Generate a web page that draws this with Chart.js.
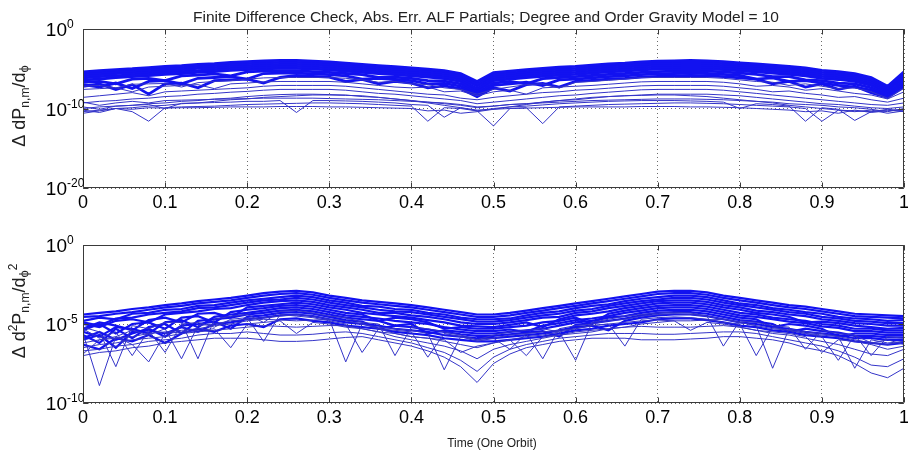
<!DOCTYPE html>
<html><head><meta charset="utf-8">
<script src="https://cdn.jsdelivr.net/npm/chart.js@4/dist/chart.umd.min.js"></script>
<style>
body{margin:0;background:#fff;width:908px;height:452px;overflow:hidden;position:relative}
canvas{position:absolute;left:0}
#c1{top:0}#c2{top:220px}
</style></head><body>
<canvas id="c1" width="908" height="220"></canvas>
<canvas id="c2" width="908" height="232"></canvas>
<script>
// time (fraction of one orbit)
const timeOrbit = [0,0.02,0.04,0.06,0.08,0.1,0.12,0.14,0.16,0.18,0.2,0.22,0.24,0.26,0.28,0.3,0.32,0.34,0.36,0.38,0.4,0.42,0.44,0.46,0.48,0.5,0.52,0.54,0.56,0.58,0.6,0.62,0.64,0.66,0.68,0.7,0.72,0.74,0.76,0.78,0.8,0.82,0.84,0.86,0.88,0.9,0.92,0.94,0.96,0.98,1];
const xTickValues = [0,0.1,0.2,0.3,0.4,0.5,0.6,0.7,0.8,0.9,1];
const yTicksTop = [1e-20,1e-10,1];
const yTicksBottom = [1e-10,1e-5,1];

// ---- top panel: log10 of |error| in dP/dphi ----
const dP_b0 = [-5.4,-5.25,-5.1,-5.0,-4.85,-4.7,-4.6,-4.45,-4.35,-4.2,
 -4.1,-4.0,-3.95,-3.95,-4.05,-4.15,-4.3,-4.45,-4.6,-4.75,
 -4.9,-5.05,-5.25,-5.6,-6.6,-5.5,-5.3,-5.1,-4.95,-4.8,
 -4.7,-4.55,-4.4,-4.3,-4.15,-4.05,-4.0,-3.95,-4.0,-4.1,
 -4.25,-4.4,-4.55,-4.7,-4.9,-5.2,-5.35,-5.6,-6.1,-7.2,-5.4];
const dP_b1 = [-5.65,-5.5,-5.35,-5.25,-5.1,-4.95,-4.85,-4.7,-4.6,-4.45,
 -4.35,-4.25,-4.2,-4.2,-4.3,-4.4,-4.55,-4.7,-4.85,-5.0,
 -5.15,-5.3,-5.5,-5.85,-6.9,-5.75,-5.55,-5.35,-5.2,-5.05,
 -4.95,-4.8,-4.65,-4.55,-4.4,-4.3,-4.25,-4.2,-4.25,-4.35,
 -4.5,-4.65,-4.8,-4.95,-5.15,-5.45,-5.6,-5.85,-6.35,-7.4,-5.65];
const dP_b2 = [-5.9,-5.75,-5.6,-5.5,-5.35,-5.2,-5.1,-4.95,-4.85,-4.7,
 -4.6,-4.5,-4.45,-4.45,-4.55,-4.65,-4.8,-4.95,-5.1,-5.25,
 -5.4,-5.55,-5.75,-6.1,-7.2,-6.0,-5.8,-5.6,-5.45,-5.3,
 -5.2,-5.05,-4.9,-4.8,-4.65,-4.55,-4.5,-4.45,-4.5,-4.6,
 -4.75,-4.9,-5.05,-5.2,-5.4,-5.7,-5.85,-6.1,-6.6,-7.6,-5.9];
const dP_b3 = [-6.15,-6.0,-5.9,-5.75,-5.6,-5.45,-5.35,-5.25,-5.1,-4.95,
 -4.85,-4.75,-4.7,-4.7,-4.8,-4.9,-5.05,-5.2,-5.35,-5.5,
 -5.65,-5.8,-6.0,-6.35,-7.5,-6.25,-6.05,-5.85,-5.7,-5.55,
 -5.45,-5.3,-5.15,-5.05,-4.9,-4.8,-4.75,-4.7,-4.75,-4.85,
 -5.0,-5.15,-5.3,-5.45,-5.65,-5.95,-6.1,-6.35,-6.85,-7.8,-6.15];
const dP_b4 = [-6.4,-6.3,-6.1,-6.0,-5.85,-5.7,-5.6,-5.45,-5.35,-5.2,
 -5.1,-5.0,-4.95,-4.95,-5.05,-5.15,-5.3,-5.45,-5.6,-5.75,
 -5.9,-6.05,-6.25,-6.6,-7.8,-6.5,-6.3,-6.1,-5.95,-5.8,
 -5.7,-5.55,-5.4,-5.3,-5.15,-5.05,-5.0,-4.95,-5.0,-5.1,
 -5.25,-5.4,-5.55,-5.7,-5.9,-6.2,-6.35,-6.6,-7.1,-8.0,-6.4];
const dP_b5 = [-6.7,-6.6,-6.9,-6.3,-6.2,-6.5,-5.9,-5.8,-5.65,-5.9,
 -5.4,-5.3,-5.25,-5.25,-5.35,-5.45,-5.6,-5.75,-6.1,-6.05,
 -6.2,-6.5,-6.55,-6.9,-8.1,-6.8,-6.6,-6.9,-6.25,-6.1,
 -6.0,-5.85,-5.7,-5.6,-5.45,-5.35,-5.3,-5.25,-5.3,-5.4,
 -5.55,-5.7,-6.0,-6.0,-6.4,-6.5,-6.8,-6.9,-7.4,-8.2,-6.7];
const dP_b6 = [-7.0,-7.3,-6.8,-7.5,-6.6,-6.5,-6.9,-6.2,-6.1,-6.0,
 -6.3,-5.6,-5.55,-5.55,-5.65,-5.75,-5.9,-6.3,-6.2,-6.35,
 -6.5,-6.9,-6.85,-7.2,-8.3,-7.1,-6.9,-6.7,-7.1,-6.4,
 -6.3,-6.15,-6.0,-5.9,-5.75,-5.65,-5.6,-5.55,-5.6,-5.7,
 -5.85,-6.3,-6.15,-6.6,-6.5,-6.8,-7.1,-7.3,-7.7,-8.4,-7.0];
const dP_b7 = [-7.2,-6.9,-7.6,-7.0,-8.2,-6.9,-6.8,-7.4,-6.5,-6.4,
 -6.3,-6.8,-6.1,-5.85,-5.95,-6.05,-6.6,-6.35,-6.9,-6.6,
 -6.8,-7.4,-7.15,-7.5,-8.5,-7.4,-7.8,-7.0,-6.85,-7.3,
 -6.6,-6.45,-6.3,-6.2,-6.05,-5.95,-5.9,-5.85,-5.9,-6.0,
 -6.15,-6.3,-6.9,-6.6,-7.3,-6.9,-7.6,-7.2,-8.0,-8.6,-7.3];
const dP_m0 = [-7.2,-7.1,-7.4,-6.95,-6.9,-6.85,-7.3,-6.75,-6.6,-6.5,
 -6.3,-6.15,-6.1,-6.1,-6.1,-6.1,-6.2,-6.4,-6.7,-6.6,
 -6.9,-7.0,-7.4,-7.6,-8.2,-7.6,-7.3,-7.0,-6.9,-7.4,
 -6.7,-6.6,-6.45,-6.3,-6.1,-6.1,-6.1,-6.1,-6.1,-6.2,
 -6.4,-6.6,-6.7,-7.1,-6.9,-7.2,-7.5,-7.4,-7.9,-8.7,-7.4];
const dP_m1 = [-7.6,-7.5,-7.4,-7.9,-7.3,-7.2,-7.1,-7.0,-7.5,-6.9,
 -6.8,-6.65,-6.6,-6.6,-6.6,-6.6,-6.7,-6.9,-7.1,-7.3,
 -7.4,-7.3,-7.9,-7.8,-8.4,-7.9,-7.7,-8.2,-7.4,-7.3,
 -7.2,-7.1,-6.95,-6.8,-6.65,-6.6,-6.6,-6.6,-6.6,-6.7,
 -6.9,-7.2,-7.1,-7.3,-7.7,-7.5,-7.8,-8.1,-8.3,-8.8,-7.9];
const dP_m2 = [-8.6,-8.4,-8.2,-8.0,-8.4,-7.9,-7.8,-7.7,-7.6,-7.5,
 -7.4,-7.2,-7.1,-7.1,-7.1,-7.1,-7.2,-7.4,-7.6,-7.8,
 -8.0,-8.2,-8.3,-8.7,-8.9,-8.6,-8.4,-8.2,-8.0,-7.9,
 -7.7,-7.6,-7.45,-7.3,-7.15,-7.1,-7.1,-7.1,-7.1,-7.2,
 -7.4,-7.6,-7.9,-7.8,-8.1,-8.3,-8.6,-8.5,-8.9,-9.2,-8.7];
const dP_m3 = [-9.3,-9.1,-9.0,-8.8,-8.7,-8.5,-8.4,-8.2,-8.1,-7.95,
 -7.85,-7.7,-7.6,-7.6,-7.6,-7.6,-7.7,-7.9,-8.1,-8.2,
 -8.4,-8.6,-8.8,-9.0,-9.4,-9.2,-9.0,-8.8,-8.6,-8.4,
 -8.3,-8.1,-7.95,-7.8,-7.65,-7.6,-7.6,-7.6,-7.6,-7.7,
 -7.9,-8.1,-8.3,-8.5,-8.7,-8.9,-9.1,-9.3,-9.5,-9.6,-9.3];
const dP_m4 = [-10.0,-9.8,-9.7,-9.6,-9.4,-9.3,-9.1,-9.0,-8.8,-8.7,
 -8.5,-8.35,-8.25,-8.2,-8.2,-8.25,-8.3,-8.5,-8.6,-8.8,
 -9.0,-9.2,-9.3,-9.5,-9.8,-9.7,-9.5,-9.4,-9.2,-9.0,
 -8.9,-8.7,-8.5,-8.4,-8.3,-8.2,-8.2,-8.2,-8.2,-8.3,
 -8.4,-8.6,-8.8,-9.0,-9.2,-9.4,-9.5,-9.7,-9.9,-10.0,-9.8];
const dP_l0 = [-10.4,-10.2,-10.0,-10.1,-9.9,-9.95,-9.9,-9.9,-9.85,-9.8,
 -9.8,-9.8,-9.75,-9.75,-9.75,-9.8,-9.8,-9.85,-9.9,-9.95,
 -10.0,-10.3,-10.2,-10.6,-10.4,-10.1,-10.0,-9.95,-9.9,-9.85,
 -9.8,-9.8,-9.8,-9.8,-9.75,-9.75,-9.75,-9.8,-9.8,-9.85,
 -9.9,-10.0,-10.1,-10.2,-10.4,-10.3,-10.6,-10.2,-10.5,-10.3,-10.1];
const dP_l1 = [-10.2,-10.5,-10.0,-10.4,-11.6,-9.9,-9.8,-9.75,-9.7,-9.6,
 -9.5,-9.45,-9.4,-9.35,-9.3,-9.3,-9.35,-9.4,-9.5,-9.6,
 -9.7,-11.6,-9.9,-10.0,-10.3,-12.2,-10.0,-9.9,-11.9,-9.8,
 -9.7,-9.6,-9.5,-9.45,-9.4,-9.35,-9.3,-9.3,-9.35,-9.4,
 -9.5,-9.6,-9.7,-9.8,-10.0,-11.6,-10.2,-10.4,-10.2,-10.6,-10.3];
const dP_l2 = [-10.6,-10.3,-10.0,-9.9,-9.7,-9.6,-9.4,-9.3,-9.1,-8.9,
 -8.8,-8.6,-8.5,-8.4,-8.3,-8.3,-8.35,-8.4,-8.6,-8.8,
 -9.0,-9.3,-9.6,-9.9,-10.2,-10.1,-9.8,-9.5,-9.2,-9.0,
 -8.8,-8.6,-8.5,-8.4,-8.35,-8.3,-8.3,-8.4,-8.5,-8.7,
 -8.9,-9.1,-9.3,-9.6,-9.8,-10.0,-10.2,-10.3,-10.4,-10.2,-10.4];
const dP_l3 = [-9.8,-10.1,-9.7,-9.6,-9.5,-10.0,-9.35,-9.3,-9.25,-9.2,
 -9.1,-9.1,-9.0,-10.5,-9.0,-9.0,-9.05,-9.1,-9.2,-9.3,
 -9.5,-9.6,-11.1,-9.9,-10.3,-10.0,-9.8,-9.7,-9.55,-9.4,
 -9.3,-9.2,-9.1,-9.05,-9.0,-9.0,-9.0,-9.05,-9.1,-9.2,
 -10.0,-9.4,-9.5,-9.7,-11.6,-9.9,-10.1,-11.5,-10.4,-10.1,-10.3];
const dP_l4 = [-9.2,-9.6,-9.3,-9.1,-9.3,-9.0,-8.95,-8.9,-8.85,-8.8,
 -8.75,-8.7,-8.7,-8.7,-8.7,-8.75,-8.8,-8.85,-8.9,-9.0,
 -9.1,-9.2,-9.4,-9.6,-9.9,-9.7,-9.5,-9.4,-9.3,-9.2,
 -9.1,-9.0,-8.95,-8.9,-8.85,-8.8,-8.8,-8.8,-8.85,-8.9,
 -9.0,-9.1,-9.2,-9.4,-9.5,-9.6,-9.8,-9.9,-10.1,-10.4,-10.0];

// ---- bottom panel: log10 of |error| in d2P/dphi2 ----
const d2P_d0 = [-4.4,-4.3,-4.2,-4.05,-3.95,-3.8,-3.7,-3.55,-3.45,-3.35,
 -3.2,-3.05,-2.95,-2.9,-3.0,-3.2,-3.35,-3.5,-3.6,-3.7,
 -3.8,-3.95,-4.1,-4.25,-4.4,-4.4,-4.3,-4.15,-4.0,-3.85,
 -3.7,-3.55,-3.4,-3.25,-3.1,-2.95,-2.9,-2.9,-3.0,-3.2,
 -3.35,-3.5,-3.65,-3.8,-3.9,-4.05,-4.2,-4.35,-4.4,-4.45,-4.5];
const d2P_d1 = [-4.8,-4.6,-4.7,-4.35,-4.3,-4.1,-4.05,-3.85,-3.8,-3.65,
 -3.5,-3.4,-3.3,-3.2,-3.3,-3.5,-3.65,-3.85,-3.9,-4.05,
 -4.1,-4.3,-4.4,-4.6,-4.7,-4.7,-4.65,-4.45,-4.3,-4.2,
 -4.0,-3.85,-3.75,-3.55,-3.4,-3.3,-3.2,-3.2,-3.3,-3.5,
 -3.7,-3.8,-4.0,-4.1,-4.25,-4.35,-4.55,-4.65,-4.7,-4.8,-4.75];
const d2P_d2 = [-5.0,-5.2,-4.8,-4.7,-4.9,-4.4,-4.3,-4.2,-4.05,-4.0,
 -3.8,-3.65,-3.55,-3.5,-3.6,-3.8,-3.95,-4.1,-4.3,-4.3,
 -4.45,-4.55,-4.7,-4.9,-5.0,-5.0,-4.9,-4.75,-4.6,-4.55,
 -4.3,-4.2,-4.0,-3.85,-3.7,-3.55,-3.5,-3.5,-3.6,-3.8,
 -3.95,-4.15,-4.25,-4.4,-4.5,-4.7,-4.8,-4.95,-5.0,-5.1,-5.1];
const d2P_d3 = [-5.4,-5.0,-5.6,-5.0,-4.9,-5.3,-4.6,-4.5,-4.9,-4.25,
 -4.1,-4.0,-3.85,-3.8,-3.9,-4.1,-4.3,-4.4,-4.8,-4.6,
 -4.7,-4.9,-5.3,-5.2,-5.3,-5.3,-5.2,-5.1,-4.9,-4.8,
 -4.6,-5.0,-4.35,-4.15,-4.0,-3.85,-3.8,-3.8,-3.9,-4.1,
 -4.3,-4.4,-4.6,-4.7,-4.8,-5.0,-5.1,-5.3,-5.3,-5.4,-5.4];
const d2P_d4 = [-5.7,-6.2,-5.3,-5.9,-5.2,-5.0,-5.6,-4.8,-4.7,-4.6,
 -4.4,-4.3,-4.15,-4.1,-4.2,-4.4,-4.6,-4.7,-4.8,-5.1,
 -5.0,-5.6,-5.4,-5.5,-5.6,-5.6,-5.5,-5.4,-5.3,-5.1,
 -4.9,-4.8,-4.6,-4.5,-4.3,-4.15,-4.1,-4.1,-4.2,-4.4,
 -4.6,-4.7,-5.2,-5.0,-5.1,-5.3,-5.8,-5.6,-5.6,-5.7,-5.7];
const d2P_d5 = [-6.0,-5.7,-6.5,-5.5,-5.4,-5.6,-5.2,-5.5,-5.0,-4.9,
 -4.7,-4.6,-4.45,-4.4,-4.5,-4.7,-4.9,-5.0,-5.1,-5.3,
 -5.4,-5.5,-5.7,-5.8,-5.9,-5.9,-5.8,-5.7,-5.6,-5.4,
 -5.2,-5.1,-5.4,-4.8,-4.6,-4.45,-4.4,-4.4,-4.5,-4.7,
 -4.9,-5.0,-5.2,-5.3,-5.5,-5.6,-5.7,-5.9,-5.9,-6.0,-6.0];
const d2P_d6 = [-4.55,-4.5,-4.35,-4.25,-4.1,-3.95,-3.85,-3.7,-3.6,-3.5,
 -3.35,-3.2,-3.1,-3.05,-3.15,-3.35,-3.5,-3.65,-3.75,-3.85,
 -3.95,-4.1,-4.25,-4.4,-4.55,-4.55,-4.45,-4.3,-4.15,-4.0,
 -3.85,-3.7,-3.55,-3.4,-3.25,-3.1,-3.05,-3.05,-3.15,-3.35,
 -3.5,-3.65,-3.8,-3.95,-4.05,-4.2,-4.35,-4.5,-4.55,-4.6,-4.65];
const d2P_d7 = [-4.9,-5.1,-4.65,-4.6,-4.4,-4.3,-4.2,-4.0,-3.95,-3.8,
 -3.65,-3.5,-3.45,-3.35,-3.45,-3.65,-3.8,-3.95,-4.1,-4.2,
 -4.25,-4.4,-4.55,-4.7,-4.85,-4.85,-4.75,-4.6,-4.45,-4.35,
 -4.15,-4.05,-3.85,-3.7,-3.55,-3.45,-3.35,-3.35,-3.45,-3.65,
 -3.8,-3.95,-4.1,-4.25,-4.35,-4.55,-4.65,-4.8,-4.85,-4.95,-4.95];
const d2P_d8 = [-5.3,-4.9,-5.1,-5.4,-4.75,-4.6,-4.9,-4.35,-4.3,-4.6,
 -3.95,-3.85,-3.75,-3.65,-3.75,-3.95,-4.1,-4.3,-4.4,-4.5,
 -4.6,-4.75,-4.9,-5.1,-5.15,-5.2,-5.05,-4.9,-5.2,-4.7,
 -4.45,-4.35,-4.2,-4.0,-3.85,-3.7,-3.65,-3.65,-3.75,-3.95,
 -4.1,-4.3,-4.4,-4.55,-4.9,-4.85,-4.95,-5.1,-5.2,-5.3,-5.25];
const d2P_d9 = [-5.5,-5.8,-5.2,-5.3,-5.6,-4.9,-4.75,-5.2,-4.55,-4.4,
 -4.3,-4.15,-4.0,-3.95,-4.05,-4.25,-4.45,-4.55,-4.65,-4.8,
 -4.9,-5.0,-5.2,-5.35,-5.45,-5.45,-5.35,-5.5,-5.1,-4.95,
 -4.75,-4.65,-4.5,-4.3,-4.15,-4.0,-3.95,-3.95,-4.05,-4.25,
 -4.45,-4.55,-4.7,-4.85,-4.95,-5.15,-5.25,-5.45,-5.45,-5.55,-5.55];
const d2P_d10 = [-5.9,-5.5,-6.0,-5.6,-5.3,-5.8,-5.1,-5.0,-4.85,-5.3,
 -4.55,-4.45,-4.3,-4.25,-4.35,-4.55,-4.75,-4.85,-5.3,-5.1,
 -5.2,-5.35,-5.5,-5.65,-5.75,-5.75,-5.65,-5.55,-5.45,-5.8,
 -5.05,-4.95,-4.8,-4.65,-4.45,-4.3,-4.25,-4.25,-4.35,-4.55,
 -4.75,-4.85,-5.0,-5.5,-5.3,-5.45,-5.55,-5.75,-5.75,-5.85,-5.85];
const d2P_d11 = [-6.3,-6.6,-5.9,-6.1,-5.7,-6.2,-5.6,-5.3,-5.5,-5.1,
 -5.0,-5.2,-4.7,-4.65,-4.8,-4.9,-5.1,-5.2,-5.3,-5.5,
 -5.6,-5.7,-5.9,-6.0,-6.1,-6.1,-6.0,-5.9,-5.8,-5.6,
 -5.4,-5.3,-5.1,-5.0,-4.9,-4.7,-4.65,-4.65,-4.75,-4.9,
 -5.1,-5.2,-5.4,-5.5,-5.7,-5.8,-5.9,-6.1,-6.2,-6.3,-6.2];
const d2P_j0 = [-5.6,-8.9,-5.8,-5.4,-5.7,-5.3,-7.2,-5.1,-5.0,-4.8,
 -4.7,-4.6,-4.5,-4.4,-4.5,-4.7,-7.4,-5.0,-5.2,-5.3,
 -5.4,-5.6,-7.9,-5.8,-6.0,-5.9,-5.7,-5.6,-7.2,-5.3,
 -5.1,-5.0,-4.8,-4.7,-4.5,-4.4,-4.35,-4.4,-4.5,-4.7,
 -4.9,-5.1,-7.8,-5.3,-5.5,-5.6,-5.8,-7.8,-6.0,-6.2,-6.1];
const d2P_j1 = [-5.2,-5.5,-7.7,-5.1,-5.3,-4.9,-4.9,-7.2,-4.7,-4.5,
 -4.4,-4.9,-4.2,-4.15,-4.3,-4.5,-4.6,-4.9,-5.0,-7.0,
 -5.2,-5.3,-5.5,-5.7,-6.0,-5.7,-5.5,-5.4,-5.3,-5.5,
 -7.3,-4.9,-4.7,-4.5,-4.4,-4.3,-4.25,-4.3,-4.5,-6.4,
 -4.8,-4.9,-5.1,-5.2,-6.6,-5.4,-5.6,-5.7,-7.0,-5.8,-5.9];
const d2P_j2 = [-5.3,-5.9,-5.5,-7.0,-5.4,-6.8,-5.0,-4.9,-5.2,-4.7,
 -4.6,-6.1,-4.4,-4.5,-4.6,-4.8,-5.0,-6.8,-5.3,-5.4,
 -5.5,-7.1,-5.6,-5.8,-6.1,-5.9,-6.6,-5.6,-5.5,-5.4,
 -5.3,-5.1,-5.0,-6.4,-4.7,-4.6,-4.55,-4.6,-4.7,-4.9,
 -5.0,-7.0,-5.2,-5.4,-5.6,-5.8,-7.3,-5.7,-6.2,-6.0,-6.3];
const d2P_j3 = [-6.9,-6.0,-5.8,-6.3,-7.4,-5.6,-5.5,-5.4,-5.3,-6.5,
 -5.0,-4.9,-4.8,-5.6,-4.9,-5.0,-5.2,-5.3,-5.5,-5.6,
 -5.8,-5.9,-6.0,-6.8,-6.4,-6.2,-6.0,-7.0,-5.8,-5.7,
 -5.6,-5.5,-5.3,-5.2,-5.0,-4.9,-4.8,-5.4,-4.9,-5.0,
 -5.2,-5.4,-5.5,-5.6,-5.8,-6.8,-6.0,-6.1,-6.3,-6.6,-6.4];
const d2P_a0 = [-6.2,-6.0,-5.9,-5.8,-5.6,-5.5,-5.4,-5.3,-5.1,-5.0,
 -4.8,-4.7,-4.75,-4.8,-4.75,-4.7,-4.8,-5.0,-5.3,-5.6,
 -5.8,-5.9,-6.1,-6.3,-6.5,-6.2,-6.0,-5.8,-5.7,-5.5,
 -5.3,-5.1,-5.0,-4.9,-4.8,-4.75,-4.8,-4.8,-4.75,-4.7,
 -4.9,-5.1,-5.3,-5.4,-5.6,-5.7,-5.8,-6.0,-6.2,-6.3,-6.1];
const d2P_a1 = [-6.5,-6.3,-6.2,-6.0,-5.9,-5.8,-5.6,-5.5,-5.4,-5.3,
 -5.2,-5.1,-5.15,-5.2,-5.15,-5.1,-5.1,-5.3,-5.5,-5.8,
 -6.0,-6.2,-6.4,-6.7,-7.2,-6.6,-6.3,-6.1,-5.9,-5.7,
 -5.5,-5.4,-5.3,-5.2,-5.15,-5.2,-5.2,-5.2,-5.15,-5.1,
 -5.2,-5.4,-5.6,-5.7,-5.9,-6.1,-6.3,-6.6,-6.9,-7.0,-6.6];
const d2P_a2 = [-6.7,-6.6,-6.4,-6.3,-6.1,-6.0,-5.9,-5.7,-5.6,-5.6,
 -5.5,-5.6,-5.7,-5.7,-5.65,-5.55,-5.5,-5.6,-5.8,-6.0,
 -6.2,-6.5,-6.8,-7.3,-8.0,-7.1,-6.6,-6.3,-6.1,-5.9,
 -5.8,-5.7,-5.6,-5.6,-5.6,-5.65,-5.65,-5.6,-5.55,-5.5,
 -5.5,-5.6,-5.8,-6.0,-6.2,-6.4,-6.7,-7.1,-7.6,-7.7,-7.2];
const d2P_a3 = [-7.0,-6.8,-6.7,-6.5,-6.4,-6.2,-6.1,-6.0,-5.9,-5.9,
 -5.9,-6.0,-6.1,-6.1,-6.05,-5.95,-5.85,-5.8,-6.0,-6.2,
 -6.4,-6.7,-7.1,-7.7,-8.7,-7.5,-6.9,-6.5,-6.3,-6.1,
 -6.0,-5.9,-5.9,-5.9,-6.0,-6.0,-6.0,-5.95,-5.9,-5.8,
 -5.8,-5.9,-6.0,-6.2,-6.5,-6.7,-7.0,-7.5,-8.1,-8.4,-7.8];

const topBand = [dP_b0,dP_b1,dP_b2,dP_b3,dP_b4,dP_b5,dP_b6,dP_b7];
const topOther = [dP_m0,dP_m1,dP_m2,dP_m3,dP_m4,dP_l0,dP_l1,dP_l2,dP_l3,dP_l4];
const bottomBand = [d2P_d0,d2P_d6,d2P_d1,d2P_d7,d2P_d2,d2P_d8,d2P_d3,d2P_d9,d2P_d4,d2P_d10,d2P_d5,d2P_d11];
const bottomOther = [d2P_j0,d2P_j1,d2P_j2,d2P_j3,d2P_a0,d2P_a1,d2P_a2,d2P_a3];

const FONT = '"Liberation Sans", Arial, sans-serif';

function richText(ctx, parts, cx, cy, rotate) {
  ctx.save();
  ctx.translate(cx, cy);
  if (rotate) ctx.rotate(-Math.PI / 2);
  let w = 0;
  parts.forEach(p => { ctx.font = p[1] + 'px ' + FONT; w += ctx.measureText(p[0]).width; });
  let x = -w / 2;
  ctx.textAlign = 'left'; ctx.textBaseline = 'alphabetic';
  parts.forEach(p => { ctx.font = p[1] + 'px ' + FONT; ctx.fillText(p[0], x, p[2]); x += ctx.measureText(p[0]).width; });
  ctx.restore();
}

const deco = {
  id: 'deco',
  afterDraw(chart, args, o) {
    const {ctx, chartArea: a, scales} = chart;
    ctx.save();
    ctx.strokeStyle = '#3a3a3a'; ctx.lineWidth = 1;
    const L = a.left + 0.5, R = a.right - 0.5, T = a.top + 0.5, B = a.bottom - 0.5;
    ctx.beginPath();
    ctx.rect(L, T, R - L, B - T);
    scales.x.ticks.forEach(t => {
      const px = Math.round(scales.x.getPixelForValue(t.value)) + 0.5;
      ctx.moveTo(px, T); ctx.lineTo(px, T + 5);
      ctx.moveTo(px, B); ctx.lineTo(px, B - 5);
    });
    scales.y.ticks.forEach(t => {
      const py = Math.round(scales.y.getPixelForValue(t.value)) + 0.5;
      ctx.moveTo(L, py); ctx.lineTo(L + 5, py);
      ctx.moveTo(R, py); ctx.lineTo(R - 5, py);
    });
    ctx.stroke();
    ctx.fillStyle = '#000';
    scales.y.ticks.forEach(t => {
      const py = scales.y.getPixelForValue(t.value);
      const e = Math.round(Math.log10(t.value));
      ctx.font = '19px ' + FONT; ctx.textAlign = 'right'; ctx.textBaseline = 'alphabetic';
      ctx.fillText('10', 67, py + 7);
      ctx.font = '12px ' + FONT; ctx.textAlign = 'left';
      ctx.fillText(String(e), 67, py - 1);
    });
    ctx.fillStyle = '#222';
    if (o.title) {
      ctx.font = o.title.size + 'px ' + FONT; ctx.textAlign = 'center'; ctx.textBaseline = 'alphabetic';
      ctx.fillText(o.title.text, o.title.x, o.title.y);
    }
    if (o.xlabel) {
      ctx.font = o.xlabel.size + 'px ' + FONT; ctx.textAlign = 'center'; ctx.textBaseline = 'alphabetic';
      ctx.fillText(o.xlabel.text, o.xlabel.x, o.xlabel.y);
    }
    if (o.ylabel) richText(ctx, o.ylabel.parts, o.ylabel.x, o.ylabel.y, true);
    ctx.restore();
  }
};

function toDataset(s, color, width) {
  return {
    data: timeOrbit.map((x, i) => ({x: x, y: Math.pow(10, s[i])})),
    borderColor: color, borderWidth: width, pointRadius: 0, fill: false, tension: 0
  };
}

function makeChart(id, band, other, bandWidth, yTicks, padTop, xAxisHeight, decoOpts) {
  const datasets = other.map(s => toDataset(s, '#3434c8', 1)).concat(band.map(s => toDataset(s, '#1212f0', bandWidth)));
  return new Chart(document.getElementById(id), {
    type: 'line',
    data: {datasets},
    options: {
      responsive: false, animation: false, devicePixelRatio: 1,
      layout: {padding: {top: padTop, right: 4, left: 0, bottom: 0}},
      plugins: {legend: {display: false}, tooltip: {enabled: false}, deco: decoOpts},
      scales: {
        x: {
          type: 'linear', min: 0, max: 1,
          afterBuildTicks: s => { s.ticks = xTickValues.map(v => ({value: v})); },
          afterFit: s => { s.height = xAxisHeight; s.paddingLeft = 0; s.paddingRight = 0; },
          ticks: {callback: v => String(v), font: {family: FONT, size: 18}, color: '#000', padding: 4, maxRotation: 0, autoSkip: false},
          grid: {color: '#6a6a6a', drawTicks: false, lineWidth: 1},
          border: {display: false, dash: [1, 3]}
        },
        y: {
          type: 'logarithmic', min: yTicks[0], max: yTicks[yTicks.length - 1],
          afterBuildTicks: s => { s.ticks = yTicks.map(v => ({value: v})); },
          afterFit: s => { s.width = 83; },
          ticks: {display: false},
          grid: {color: '#6a6a6a', drawTicks: false, lineWidth: 1},
          border: {display: false, dash: [1, 3]}
        }
      }
    },
    plugins: [deco]
  });
}

makeChart('c1', topBand, topOther, 2.8, yTicksTop, 29, 32, {
  title: {text: 'Finite Difference Check, Abs. Err. ALF Partials; Degree and Order Gravity Model = 10', x: 486, y: 22, size: 15.5},
  ylabel: {x: 25, y: 106, parts: [['\u0394 dP', 18, 0], ['n,m', 12, 4], ['/d', 18, 0], ['\u03d5', 13, 3]]}
});
makeChart('c2', bottomBand, bottomOther, 2.2, yTicksBottom, 25, 49, {
  xlabel: {text: 'Time (One Orbit)', x: 492, y: 227, size: 12},
  ylabel: {x: 25, y: 91, parts: [['\u0394 d', 18, 0], ['2', 12, -8], ['P', 18, 0], ['n,m', 12, 4], ['/d', 18, 0], ['\u03d5', 13, 3], ['2', 12, -8]]}
});
</script>
</body></html>
